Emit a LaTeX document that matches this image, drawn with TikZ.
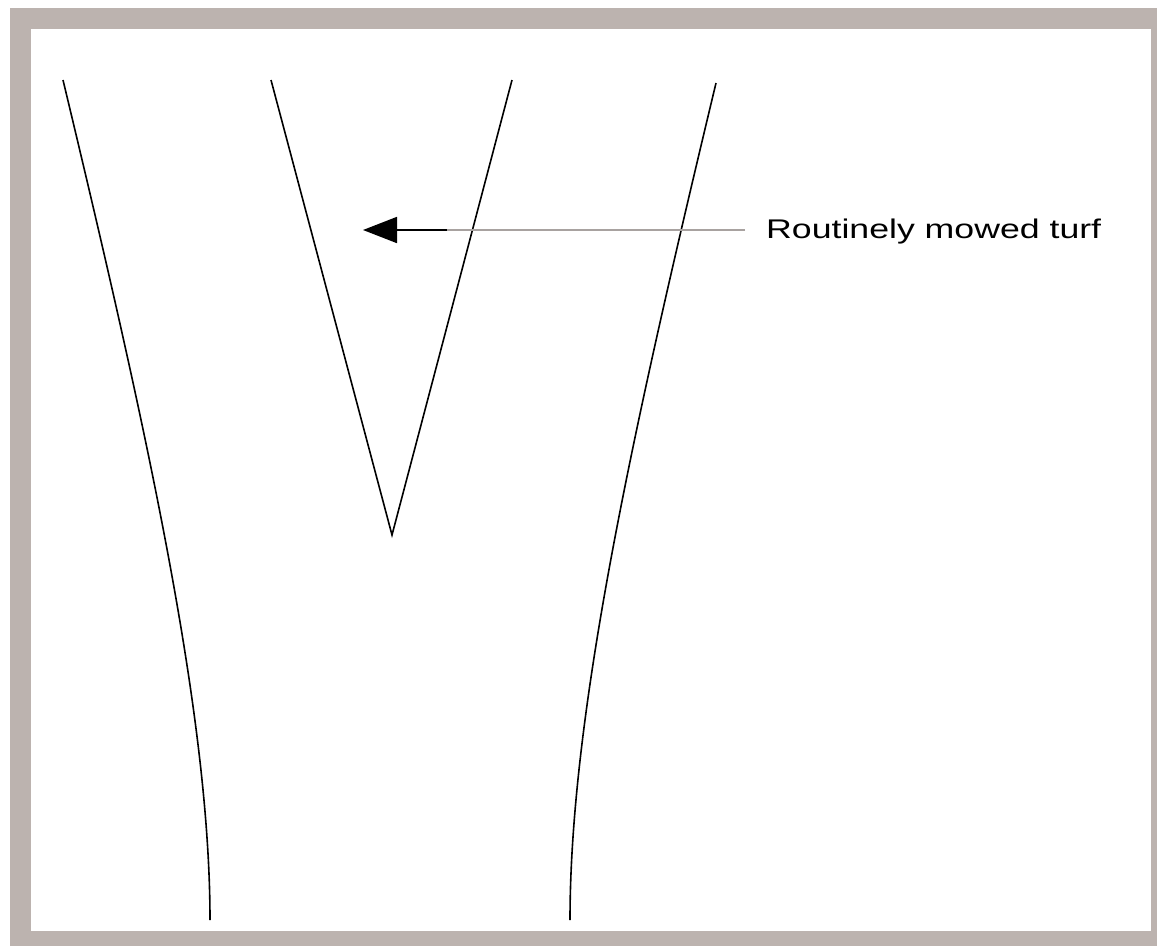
\documentclass[tikz,border=0pt]{standalone}
\usepackage{fontspec}
\setmainfont{Liberation Sans}
\usetikzlibrary{arrows.meta}
\definecolor{framegray}{HTML}{BCB3AF}
\definecolor{leadgray}{HTML}{A8A2A0}
\tikzset{
  edge/.style={line width=1.6pt, black},
  leader/.style={line width=1.8pt, leadgray},
  pointer/.style={line width=1.8pt, black, -{Triangle[length=34pt,width=26pt]}},
  labeltext/.style={inner sep=0pt, anchor=west, text=black}
}
\begin{document}
\begin{tikzpicture}[x=1pt,y=-1pt]
\useasboundingbox (0,0) rectangle (1157,946);
\fill[white] (0,0) rectangle (1157,946);
\fill[framegray] (10,8) rectangle (1157,946);
\fill[white] (31,29) rectangle (1151,931);
% outer curves
\draw[edge] (63,80) .. controls (147,430) and (210,715) .. (210,920);
\draw[edge] (716,83) .. controls (632,433) and (570,715) .. (570,920);
% V
\draw[edge] (271,80) -- (392,535) -- (512,80);
% label and arrow
\node[labeltext] (lbl) at (766,232) {\resizebox{335pt}{\height}{\fontsize{27}{32}\selectfont Routinely mowed turf}};
\coordinate (mid) at (447,230);
\coordinate (tip) at (363,230);
\coordinate (lstart) at ([xshift=-21pt]lbl.west |- mid);
\draw[leader] (lstart) -- (mid);
\draw[pointer] (mid) -- (tip);
\end{tikzpicture}
\end{document}
